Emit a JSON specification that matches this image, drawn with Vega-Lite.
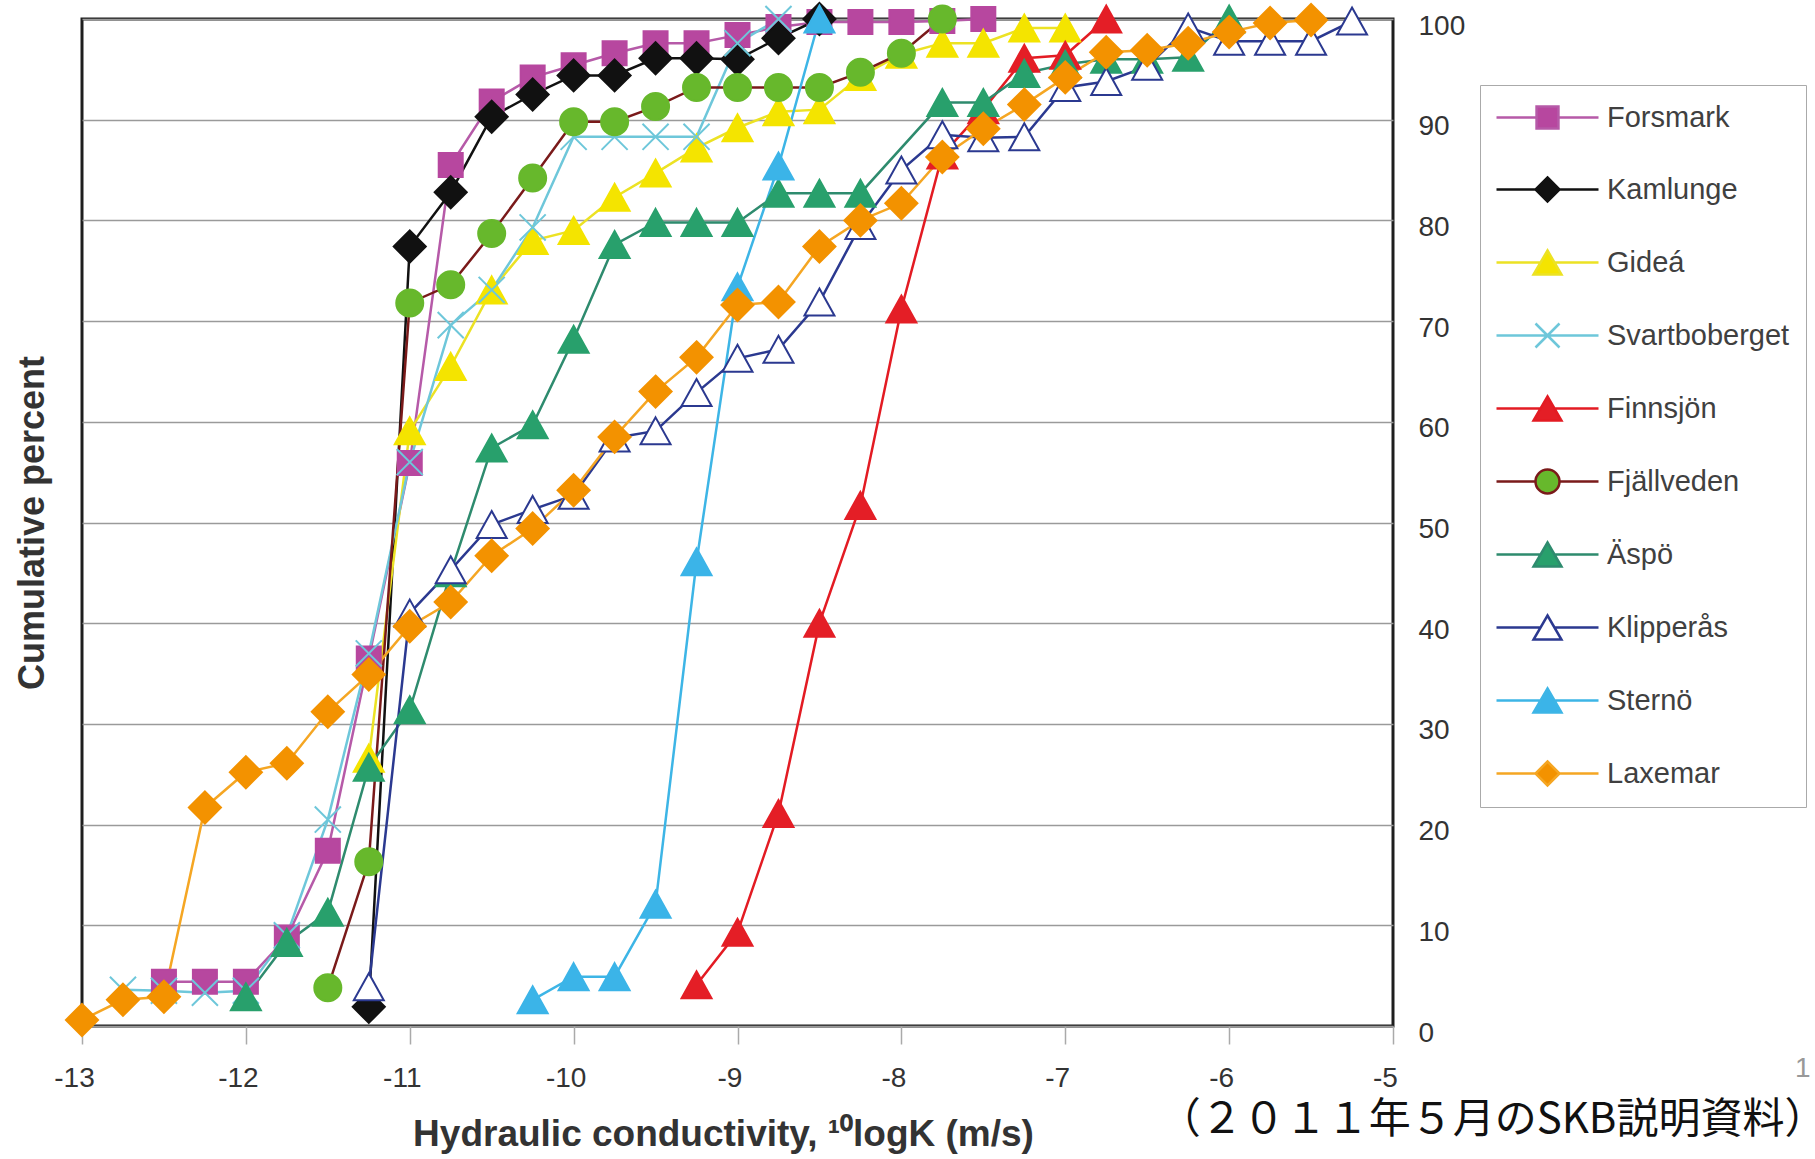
{
  "$schema": "https://vega.github.io/schema/vega-lite/v6.json",
  "width": 1311,
  "height": 1007,
  "autosize": {"type": "none"},
  "padding": {"left": 82, "top": 19, "right": 422, "bottom": 133},
  "background": "white",
  "config": {
    "font": "Liberation Sans",
    "view": {"stroke": "#1e1e1e", "strokeWidth": 3},
    "legend": {
      "orient": "none",
      "legendX": 1398,
      "legendY": 66,
      "padding": 16,
      "strokeColor": "#aaaaaa",
      "fillColor": "white",
      "rowPadding": 38,
      "symbolSize": 900,
      "symbolStrokeWidth": 2.5,
      "symbolOffset": 35,
      "labelOffset": 43,
      "labelFontSize": 29,
      "labelFont": "Liberation Sans",
      "labelColor": "#404040",
      "labelLimit": 400,
      "symbolOpacity": 1
    }
  },
  "data": {
    "values": [
      {"site": "Forsmark", "logK": -12.5, "percent": 4.4},
      {"site": "Forsmark", "logK": -12.25, "percent": 4.4},
      {"site": "Forsmark", "logK": -12, "percent": 4.4},
      {"site": "Forsmark", "logK": -11.75, "percent": 8.8},
      {"site": "Forsmark", "logK": -11.5, "percent": 17.4},
      {"site": "Forsmark", "logK": -11.25, "percent": 36.5},
      {"site": "Forsmark", "logK": -11, "percent": 55.9},
      {"site": "Forsmark", "logK": -10.75, "percent": 85.5},
      {"site": "Forsmark", "logK": -10.5, "percent": 91.8},
      {"site": "Forsmark", "logK": -10.25, "percent": 94.2},
      {"site": "Forsmark", "logK": -10, "percent": 95.4},
      {"site": "Forsmark", "logK": -9.75, "percent": 96.6},
      {"site": "Forsmark", "logK": -9.5, "percent": 97.6},
      {"site": "Forsmark", "logK": -9.25, "percent": 97.6},
      {"site": "Forsmark", "logK": -9, "percent": 98.4},
      {"site": "Forsmark", "logK": -8.75, "percent": 99.2},
      {"site": "Forsmark", "logK": -8.5, "percent": 99.7},
      {"site": "Forsmark", "logK": -8.25, "percent": 99.7},
      {"site": "Forsmark", "logK": -8, "percent": 99.7},
      {"site": "Forsmark", "logK": -7.75, "percent": 99.8},
      {"site": "Forsmark", "logK": -7.5, "percent": 100},
      {"site": "Kamlunge", "logK": -11.25, "percent": 1.9},
      {"site": "Kamlunge", "logK": -11, "percent": 77.4},
      {"site": "Kamlunge", "logK": -10.75, "percent": 82.8},
      {"site": "Kamlunge", "logK": -10.5, "percent": 90.3},
      {"site": "Kamlunge", "logK": -10.25, "percent": 92.5},
      {"site": "Kamlunge", "logK": -10, "percent": 94.4},
      {"site": "Kamlunge", "logK": -9.75, "percent": 94.4},
      {"site": "Kamlunge", "logK": -9.5, "percent": 96.1},
      {"site": "Kamlunge", "logK": -9.25, "percent": 96.1},
      {"site": "Kamlunge", "logK": -9, "percent": 96},
      {"site": "Kamlunge", "logK": -8.75, "percent": 98.1},
      {"site": "Kamlunge", "logK": -8.5, "percent": 100},
      {"site": "Gideá", "logK": -11.25, "percent": 26.6},
      {"site": "Gideá", "logK": -11, "percent": 59.1},
      {"site": "Gideá", "logK": -10.75, "percent": 65.5},
      {"site": "Gideá", "logK": -10.5, "percent": 73.1},
      {"site": "Gideá", "logK": -10.25, "percent": 78},
      {"site": "Gideá", "logK": -10, "percent": 79},
      {"site": "Gideá", "logK": -9.75, "percent": 82.3},
      {"site": "Gideá", "logK": -9.5, "percent": 84.7},
      {"site": "Gideá", "logK": -9.25, "percent": 87.2},
      {"site": "Gideá", "logK": -9, "percent": 89.2},
      {"site": "Gideá", "logK": -8.75, "percent": 90.8},
      {"site": "Gideá", "logK": -8.5, "percent": 91},
      {"site": "Gideá", "logK": -8.25, "percent": 94.3},
      {"site": "Gideá", "logK": -8, "percent": 96.5},
      {"site": "Gideá", "logK": -7.75, "percent": 97.6},
      {"site": "Gideá", "logK": -7.5, "percent": 97.6},
      {"site": "Gideá", "logK": -7.25, "percent": 99.1},
      {"site": "Gideá", "logK": -7, "percent": 99.1},
      {"site": "Svartboberget", "logK": -12.75, "percent": 3.6},
      {"site": "Svartboberget", "logK": -12.5, "percent": 3.5},
      {"site": "Svartboberget", "logK": -12.25, "percent": 3.3},
      {"site": "Svartboberget", "logK": -12, "percent": 3.5},
      {"site": "Svartboberget", "logK": -11.75, "percent": 9},
      {"site": "Svartboberget", "logK": -11.5, "percent": 20.5},
      {"site": "Svartboberget", "logK": -11.25, "percent": 37},
      {"site": "Svartboberget", "logK": -11, "percent": 56},
      {"site": "Svartboberget", "logK": -10.75, "percent": 69.6},
      {"site": "Svartboberget", "logK": -10.5, "percent": 73.1},
      {"site": "Svartboberget", "logK": -10.25, "percent": 79.3},
      {"site": "Svartboberget", "logK": -10, "percent": 88.3},
      {"site": "Svartboberget", "logK": -9.75, "percent": 88.3},
      {"site": "Svartboberget", "logK": -9.5, "percent": 88.3},
      {"site": "Svartboberget", "logK": -9.25, "percent": 88.3},
      {"site": "Svartboberget", "logK": -9, "percent": 97.6},
      {"site": "Svartboberget", "logK": -8.75, "percent": 100},
      {"site": "Finnsjön", "logK": -9.25, "percent": 4.1},
      {"site": "Finnsjön", "logK": -9, "percent": 9.3},
      {"site": "Finnsjön", "logK": -8.75, "percent": 21.1},
      {"site": "Finnsjön", "logK": -8.5, "percent": 40},
      {"site": "Finnsjön", "logK": -8.25, "percent": 51.7},
      {"site": "Finnsjön", "logK": -8, "percent": 71.2},
      {"site": "Finnsjön", "logK": -7.75, "percent": 86.5},
      {"site": "Finnsjön", "logK": -7.5, "percent": 91},
      {"site": "Finnsjön", "logK": -7.25, "percent": 96.1},
      {"site": "Finnsjön", "logK": -7, "percent": 96.4},
      {"site": "Finnsjön", "logK": -6.75, "percent": 100},
      {"site": "Fjällveden", "logK": -11.5, "percent": 3.8},
      {"site": "Fjällveden", "logK": -11.25, "percent": 16.3},
      {"site": "Fjällveden", "logK": -11, "percent": 71.8},
      {"site": "Fjällveden", "logK": -10.75, "percent": 73.6},
      {"site": "Fjällveden", "logK": -10.5, "percent": 78.7},
      {"site": "Fjällveden", "logK": -10.25, "percent": 84.2},
      {"site": "Fjällveden", "logK": -10, "percent": 89.8},
      {"site": "Fjällveden", "logK": -9.75, "percent": 89.8},
      {"site": "Fjällveden", "logK": -9.5, "percent": 91.3},
      {"site": "Fjällveden", "logK": -9.25, "percent": 93.2},
      {"site": "Fjällveden", "logK": -9, "percent": 93.2},
      {"site": "Fjällveden", "logK": -8.75, "percent": 93.2},
      {"site": "Fjällveden", "logK": -8.5, "percent": 93.2},
      {"site": "Fjällveden", "logK": -8.25, "percent": 94.7},
      {"site": "Fjällveden", "logK": -8, "percent": 96.6},
      {"site": "Fjällveden", "logK": -7.75, "percent": 100},
      {"site": "Äspö", "logK": -12, "percent": 2.9},
      {"site": "Äspö", "logK": -11.75, "percent": 8.3},
      {"site": "Äspö", "logK": -11.5, "percent": 11.3},
      {"site": "Äspö", "logK": -11.25, "percent": 25.7},
      {"site": "Äspö", "logK": -11, "percent": 31.4},
      {"site": "Äspö", "logK": -10.75, "percent": 45},
      {"site": "Äspö", "logK": -10.5, "percent": 57.4},
      {"site": "Äspö", "logK": -10.25, "percent": 59.7},
      {"site": "Äspö", "logK": -10, "percent": 68.2},
      {"site": "Äspö", "logK": -9.75, "percent": 77.6},
      {"site": "Äspö", "logK": -9.5, "percent": 79.8},
      {"site": "Äspö", "logK": -9.25, "percent": 79.8},
      {"site": "Äspö", "logK": -9, "percent": 79.8},
      {"site": "Äspö", "logK": -8.75, "percent": 82.7},
      {"site": "Äspö", "logK": -8.5, "percent": 82.7},
      {"site": "Äspö", "logK": -8.25, "percent": 82.7},
      {"site": "Äspö", "logK": -7.75, "percent": 91.7},
      {"site": "Äspö", "logK": -7.5, "percent": 91.7},
      {"site": "Äspö", "logK": -7.25, "percent": 94.6},
      {"site": "Äspö", "logK": -7, "percent": 95.5},
      {"site": "Äspö", "logK": -6.75, "percent": 96},
      {"site": "Äspö", "logK": -6.5, "percent": 96},
      {"site": "Äspö", "logK": -6.25, "percent": 96.2},
      {"site": "Äspö", "logK": -6, "percent": 100},
      {"site": "Klipperås", "logK": -11.25, "percent": 3.9},
      {"site": "Klipperås", "logK": -11, "percent": 41},
      {"site": "Klipperås", "logK": -10.75, "percent": 45.3},
      {"site": "Klipperås", "logK": -10.5, "percent": 49.8},
      {"site": "Klipperås", "logK": -10.25, "percent": 51.3},
      {"site": "Klipperås", "logK": -10, "percent": 52.7},
      {"site": "Klipperås", "logK": -9.75, "percent": 58.4},
      {"site": "Klipperås", "logK": -9.5, "percent": 59.1},
      {"site": "Klipperås", "logK": -9.25, "percent": 62.9},
      {"site": "Klipperås", "logK": -9, "percent": 66.3},
      {"site": "Klipperås", "logK": -8.75, "percent": 67.2},
      {"site": "Klipperås", "logK": -8.5, "percent": 71.9},
      {"site": "Klipperås", "logK": -8.25, "percent": 79.5},
      {"site": "Klipperås", "logK": -8, "percent": 85},
      {"site": "Klipperås", "logK": -7.75, "percent": 88.5},
      {"site": "Klipperås", "logK": -7.5, "percent": 88.2},
      {"site": "Klipperås", "logK": -7.25, "percent": 88.3},
      {"site": "Klipperås", "logK": -7, "percent": 93.2},
      {"site": "Klipperås", "logK": -6.75, "percent": 93.8},
      {"site": "Klipperås", "logK": -6.5, "percent": 95.3},
      {"site": "Klipperås", "logK": -6.25, "percent": 99.2},
      {"site": "Klipperås", "logK": -6, "percent": 97.8},
      {"site": "Klipperås", "logK": -5.75, "percent": 97.8},
      {"site": "Klipperås", "logK": -5.5, "percent": 97.8},
      {"site": "Klipperås", "logK": -5.25, "percent": 99.8},
      {"site": "Sternö", "logK": -10.25, "percent": 2.6},
      {"site": "Sternö", "logK": -10, "percent": 4.9},
      {"site": "Sternö", "logK": -9.75, "percent": 4.9},
      {"site": "Sternö", "logK": -9.5, "percent": 12.1},
      {"site": "Sternö", "logK": -9.25, "percent": 46.1},
      {"site": "Sternö", "logK": -9, "percent": 73.4},
      {"site": "Sternö", "logK": -8.75, "percent": 85.4},
      {"site": "Sternö", "logK": -8.5, "percent": 100},
      {"site": "Laxemar", "logK": -13, "percent": 0.6},
      {"site": "Laxemar", "logK": -12.75, "percent": 2.6},
      {"site": "Laxemar", "logK": -12.5, "percent": 2.9},
      {"site": "Laxemar", "logK": -12.25, "percent": 21.7},
      {"site": "Laxemar", "logK": -12, "percent": 25.2},
      {"site": "Laxemar", "logK": -11.75, "percent": 26.1},
      {"site": "Laxemar", "logK": -11.5, "percent": 31.2},
      {"site": "Laxemar", "logK": -11.25, "percent": 34.9},
      {"site": "Laxemar", "logK": -11, "percent": 39.7},
      {"site": "Laxemar", "logK": -10.75, "percent": 42.1},
      {"site": "Laxemar", "logK": -10.5, "percent": 46.7},
      {"site": "Laxemar", "logK": -10.25, "percent": 49.4},
      {"site": "Laxemar", "logK": -10, "percent": 53.2},
      {"site": "Laxemar", "logK": -9.75, "percent": 58.5},
      {"site": "Laxemar", "logK": -9.5, "percent": 63},
      {"site": "Laxemar", "logK": -9.25, "percent": 66.4},
      {"site": "Laxemar", "logK": -9, "percent": 71.6},
      {"site": "Laxemar", "logK": -8.75, "percent": 71.9},
      {"site": "Laxemar", "logK": -8.5, "percent": 77.4},
      {"site": "Laxemar", "logK": -8.25, "percent": 80},
      {"site": "Laxemar", "logK": -8, "percent": 81.7},
      {"site": "Laxemar", "logK": -7.75, "percent": 86.3},
      {"site": "Laxemar", "logK": -7.5, "percent": 89.1},
      {"site": "Laxemar", "logK": -7.25, "percent": 91.5},
      {"site": "Laxemar", "logK": -7, "percent": 94.2},
      {"site": "Laxemar", "logK": -6.75, "percent": 96.7},
      {"site": "Laxemar", "logK": -6.5, "percent": 96.9},
      {"site": "Laxemar", "logK": -6.25, "percent": 97.6},
      {"site": "Laxemar", "logK": -6, "percent": 98.7},
      {"site": "Laxemar", "logK": -5.75, "percent": 99.6},
      {"site": "Laxemar", "logK": -5.5, "percent": 99.9}
    ]
  },
  "resolve": {
    "scale": {"fill": "independent", "stroke": "independent", "shape": "independent"},
    "axis": {"x": "independent", "y": "independent"}
  },
  "layer": [
    {
      "mark": {"type": "line", "strokeWidth": 2.5},
      "encoding": {
        "x": {
          "field": "logK", "type": "quantitative",
          "scale": {"domain": [-13, -5], "nice": false, "zero": false},
          "axis": {
            "orient": "bottom",
            "values": [-13, -12, -11, -10, -9, -8, -7, -6, -5],
            "grid": false, "domain": false,
            "ticks": true, "tickColor": "#aaaaaa", "tickSize": 18, "tickWidth": 1.5,
            "labelFontSize": 28, "labelColor": "#333333", "labelPadding": 20, "labelOffset": -8,
            "labelFlush": false, "labelOverlap": false,
            "labelExpr": "'' + datum.value",
            "title": "Hydraulic conductivity, ¹⁰logK (m/s)",
            "titleFontSize": 37, "titleFontWeight": "bold", "titleColor": "#333333",
            "titlePadding": 24, "titleX": 641
          }
        },
        "y": {
          "field": "percent", "type": "quantitative",
          "scale": {"domain": [0, 100], "nice": false, "zero": false},
          "axis": {
            "orient": "right",
            "values": [0, 10, 20, 30, 40, 50, 60, 70, 80, 90, 100],
            "grid": true, "gridColor": "#9a9a9a", "gridWidth": 1.5,
            "domain": false, "ticks": false,
            "labelFontSize": 28, "labelColor": "#333333", "labelPadding": 25,
            "labelAlign": "left", "labelBaseline": "middle", "labelOffset": 7,
            "title": null
          }
        },
        "stroke": {
          "field": "site", "type": "nominal", "legend": null,
          "scale": {
            "domain": ["Forsmark", "Kamlunge", "Gideá", "Svartboberget", "Finnsjön", "Fjällveden", "Äspö", "Klipperås", "Sternö", "Laxemar"],
            "range": ["#b65aa8", "#111111", "#ece224", "#6ec7da", "#e31b23", "#7a1a1a", "#2e8b6e", "#2b3990", "#3db5e6", "#f5a623"]
          }
        }
      }
    },
    {
      "mark": {"type": "point", "filled": true, "size": 900, "strokeWidth": 2, "opacity": 1},
      "encoding": {
        "x": {"field": "logK", "type": "quantitative", "axis": null},
        "y": {
          "field": "percent", "type": "quantitative",
          "axis": {
            "orient": "left", "title": "Cumulative percent",
            "titleFontSize": 36, "titleFontWeight": "bold", "titleColor": "#333333",
            "titlePadding": 31, "labels": false, "ticks": false, "domain": false, "grid": false
          }
        },
        "shape": {
          "field": "site", "type": "nominal", "legend": null,
          "scale": {
            "domain": ["Forsmark", "Kamlunge", "Gideá", "Svartboberget", "Finnsjön", "Fjällveden", "Äspö", "Klipperås", "Sternö", "Laxemar"],
            "range": [
              "M-0.8,-0.8H0.8V0.8H-0.8Z",
              "M0,-1.07L1.07,0L0,1.07L-1.07,0Z",
              "M0,-0.9L1,0.9L-1,0.9Z",
              "M-0.87,-0.87L0.87,0.87M-0.87,0.87L0.87,-0.87",
              "M0,-0.9L1,0.9L-1,0.9Z",
              "M-0.9,0A0.9,0.9,0,1,1,0.9,0A0.9,0.9,0,1,1,-0.9,0Z",
              "M0,-0.9L1,0.9L-1,0.9Z",
              "M0,-0.9L1,0.9L-1,0.9Z",
              "M0,-0.9L1,0.9L-1,0.9Z",
              "M0,-1.07L1.07,0L0,1.07L-1.07,0Z"
            ]
          }
        },
        "fill": {
          "field": "site", "type": "nominal", "legend": null,
          "scale": {
            "domain": ["Forsmark", "Kamlunge", "Gideá", "Svartboberget", "Finnsjön", "Fjällveden", "Äspö", "Klipperås", "Sternö", "Laxemar"],
            "range": ["#b7479f", "#111111", "#f4e400", "#6ec7da", "#e41e26", "#67b82c", "#28a06c", "#ffffff", "#3bb4e8", "#f39200"]
          }
        },
        "stroke": {
          "field": "site", "type": "nominal", "legend": null,
          "scale": {
            "domain": ["Forsmark", "Kamlunge", "Gideá", "Svartboberget", "Finnsjön", "Fjällveden", "Äspö", "Klipperås", "Sternö", "Laxemar"],
            "range": ["#b7479f", "#111111", "#f4e400", "#6ec7da", "#e41e26", "#67b82c", "#28a06c", "#2b3990", "#3bb4e8", "#f39200"]
          }
        }
      }
    },
    {
      "mark": {"type": "point", "filled": true, "opacity": 0},
      "encoding": {
        "x": {"field": "logK", "type": "quantitative", "axis": null},
        "y": {"field": "percent", "type": "quantitative", "axis": null},
        "shape": {
          "field": "site", "type": "nominal", "legend": {"title": null},
          "scale": {
            "domain": ["Forsmark", "Kamlunge", "Gideá", "Svartboberget", "Finnsjön", "Fjällveden", "Äspö", "Klipperås", "Sternö", "Laxemar"],
            "range": [
              "M-3.4,0H-0.73M0.73,0H3.4M-0.73,-0.73H0.73V0.73H-0.73Z",
              "M-3.4,0H-0.8M0.8,0H3.4M0,-0.8L0.8,0L0,0.8L-0.8,0Z",
              "M-3.4,0H-0.47M0.47,0H3.4M0,-0.8L0.93,0.8L-0.93,0.8Z",
              "M-3.4,0H3.4M-0.8,-0.8L0.8,0.8M-0.8,0.8L0.8,-0.8",
              "M-3.4,0H-0.47M0.47,0H3.4M0,-0.8L0.93,0.8L-0.93,0.8Z",
              "M-3.4,0H-0.8M0.8,0H3.4M-0.8,0A0.8,0.8,0,1,1,0.8,0A0.8,0.8,0,1,1,-0.8,0Z",
              "M-3.4,0H-0.47M0.47,0H3.4M0,-0.8L0.93,0.8L-0.93,0.8Z",
              "M-3.4,0H-0.47M0.47,0H3.4M0,-0.8L0.93,0.8L-0.93,0.8Z",
              "M-3.4,0H-0.47M0.47,0H3.4M0,-0.8L0.93,0.8L-0.93,0.8Z",
              "M-3.4,0H-0.8M0.8,0H3.4M0,-0.8L0.8,0L0,0.8L-0.8,0Z"
            ]
          }
        },
        "fill": {
          "field": "site", "type": "nominal", "legend": {"title": null},
          "scale": {
            "domain": ["Forsmark", "Kamlunge", "Gideá", "Svartboberget", "Finnsjön", "Fjällveden", "Äspö", "Klipperås", "Sternö", "Laxemar"],
            "range": ["#b7479f", "#111111", "#f4e400", "#6ec7da", "#e41e26", "#67b82c", "#28a06c", "#ffffff", "#3bb4e8", "#f39200"]
          }
        },
        "stroke": {
          "field": "site", "type": "nominal", "legend": {"title": null},
          "scale": {
            "domain": ["Forsmark", "Kamlunge", "Gideá", "Svartboberget", "Finnsjön", "Fjällveden", "Äspö", "Klipperås", "Sternö", "Laxemar"],
            "range": ["#b65aa8", "#111111", "#ece224", "#6ec7da", "#e31b23", "#7a1a1a", "#2e8b6e", "#2b3990", "#3db5e6", "#f5a623"]
          }
        }
      }
    },
    {
      "data": {"values": [{"caption": "（２０１１年５月のSKB説明資料）"}]},
      "mark": {"type": "text", "align": "left", "baseline": "alphabetic", "font": "Noto Sans CJK JP", "fontSize": 42, "color": "#111111", "clip": false},
      "encoding": {
        "text": {"field": "caption"},
        "x": {"datum": -6.43, "type": "quantitative", "axis": null},
        "y": {"datum": -10.6, "type": "quantitative", "axis": null}
      }
    },
    {
      "data": {"values": [{"page": "1"}]},
      "mark": {"type": "text", "align": "center", "baseline": "middle", "font": "Liberation Sans", "fontSize": 28, "color": "#999999"},
      "encoding": {
        "text": {"field": "page"},
        "x": {"datum": -2.5, "type": "quantitative", "axis": null},
        "y": {"datum": -4.23, "type": "quantitative", "axis": null}
      }
    }
  ]
}
